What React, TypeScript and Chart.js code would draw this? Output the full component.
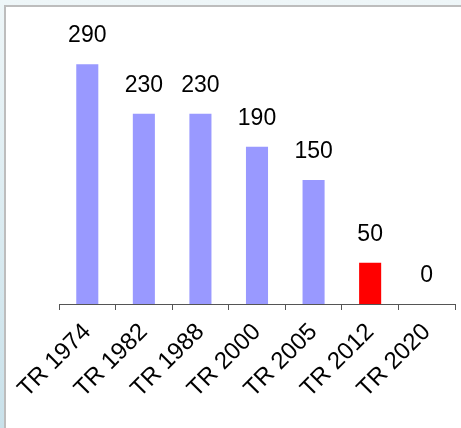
import React, { useEffect, useRef } from "react";
import { Chart, registerables } from "chart.js";

Chart.register(...registerables);

const categories = ["TR 1974", "TR 1982", "TR 1988", "TR 2000", "TR 2005", "TR 2012", "TR 2020"];
const values = [290, 230, 230, 190, 150, 50, 0];
const barColors = ["#9999FF", "#9999FF", "#9999FF", "#9999FF", "#9999FF", "#FF0000", "#9999FF"];

const FONT = "'Liberation Sans', Arial, sans-serif";

const valueLabels = {
  id: "valueLabels",
  afterDatasetsDraw(chart: any) {
    const ctx = chart.ctx;
    const meta = chart.getDatasetMeta(0);
    ctx.save();
    ctx.font = `23px ${FONT}`;
    ctx.fillStyle = "#000";
    ctx.textAlign = "center";
    ctx.textBaseline = "middle";
    meta.data.forEach((bar: any, i: number) => {
      ctx.fillText(String(values[i]), bar.x, bar.y - 28);
    });
    ctx.restore();
  },
};

export default function App() {
  const ref = useRef<HTMLCanvasElement | null>(null);
  useEffect(() => {
    if (!ref.current) return;
    const chart = new Chart(ref.current, {
      type: "bar",
      data: {
        labels: categories,
        datasets: [
          {
            data: values,
            backgroundColor: barColors,
            borderWidth: 0,
            categoryPercentage: 1,
            barPercentage: 0.39,
          },
        ],
      },
      options: {
        animation: false,
        responsive: false,
        maintainAspectRatio: false,
        layout: { padding: { left: 59, right: 6, top: 14.5, bottom: 0 } },
        plugins: { legend: { display: false }, tooltip: { enabled: false } },
        scales: {
          y: { display: false, min: 0, max: 350 },
          x: {
            afterFit: (scale: any) => {
              scale.height = 428 - 304;
            },
            grid: {
              display: true,
              drawOnChartArea: false,
              drawTicks: true,
              tickLength: 6,
              color: "#555",
              offset: true,
            },
            border: { display: true, color: "#555", width: 1 },
            ticks: {
              minRotation: 45,
              maxRotation: 45,
              color: "#000",
              padding: 8,
              font: { size: 24, family: FONT },
            },
          },
        },
      },
      plugins: [valueLabels],
    });
    return () => chart.destroy();
  }, []);

  return (
    <div
      style={{
        position: "relative",
        width: 461,
        height: 428,
        background: "linear-gradient(to bottom, #eef6f8, #c9e1ea)",
        overflow: "hidden",
      }}
    >
      <style>{`body{margin:0}`}</style>
      <div
        style={{
          position: "absolute",
          left: 4,
          top: 5,
          width: 461,
          height: 428,
          background: "#fff",
          borderTop: "2px solid #bdbdbd",
          borderLeft: "2px solid #bdbdbd",
        }}
      />
      <canvas ref={ref} width={461} height={428} style={{ position: "absolute", left: 0, top: 0 }} />
    </div>
  );
}
